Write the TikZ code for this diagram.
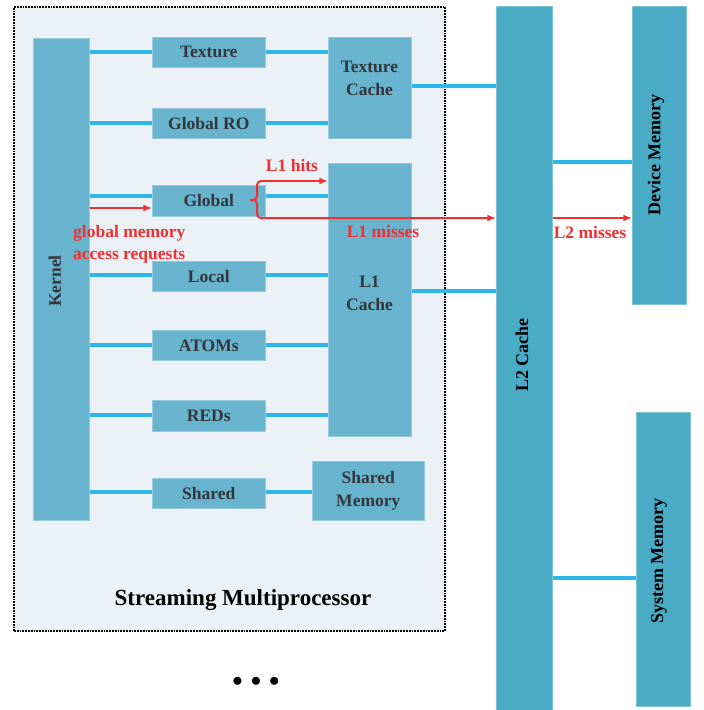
\documentclass[tikz,border=0pt]{standalone}
\usepackage{fontspec}
\setmainfont{Liberation Serif}
\usetikzlibrary{positioning,arrows.meta,calc}
\definecolor{smBack}{RGB}{236,241,248}
\definecolor{unitFill}{RGB}{104,179,205}
\definecolor{memFill}{RGB}{74,171,198}
\definecolor{busBlue}{RGB}{45,182,234}
\definecolor{hitRed}{RGB}{238,48,48}
\definecolor{labelInk}{RGB}{50,55,60}

\begin{document}
\begin{tikzpicture}[x=1pt,y=-1pt,
    unit/.style={fill=unitFill, draw=unitFill!70!white, line width=0.6pt, anchor=north west,
      inner sep=0pt, align=center, text=labelInk, font=\fontsize{17.5}{20}\selectfont\bfseries},
    mem/.style={unit, fill=memFill, draw=memFill!70!white},
    vlabel/.style={rotate=90, font=\fontsize{18}{20}\selectfont\bfseries},
    bus/.style={draw=busBlue, line width=4.5pt},
    miss/.style={draw=hitRed, line width=2pt, -{Latex[length=3mm,width=2.4mm]}},
    redtext/.style={text=hitRed, font=\fontsize{17.5}{22}\selectfont\bfseries, inner sep=0pt}
  ]
    \useasboundingbox (0,0) rectangle (704,710);

    % streaming multiprocessor frame
    \node[draw=black, densely dotted, line width=1.8pt, fill=smBack, anchor=north west,
      minimum width=431pt, minimum height=624pt, inner sep=0pt] (sm) at (13,6) {};
    \node[font=\fontsize{23}{26}\selectfont\bfseries] (smlabel) at (243,600) {Streaming Multiprocessor};

    % kernel and memory spaces
    \node[unit, minimum width=56pt, minimum height=482pt] (kernel) at (33,38) {};
    \node[vlabel, text=labelInk, font=\fontsize{17.5}{20}\selectfont\bfseries] at (55,281) {Kernel};

    \node[unit, minimum width=113pt, minimum height=30pt] (texture) at (152,37) {Texture};
    \node[unit, minimum width=113pt, minimum height=30pt] (globro)  at (152,108) {Global RO};
    \node[unit, minimum width=113pt, minimum height=31pt] (global)  at (152,185) {Global};
    \node[unit, minimum width=113pt, minimum height=30pt] (local)   at (152,261) {Local};
    \node[unit, minimum width=113pt, minimum height=30pt] (atoms)   at (152,330) {ATOMs};
    \node[unit, minimum width=113pt, minimum height=31pt] (reds)    at (152,400) {REDs};
    \node[unit, minimum width=113pt, minimum height=30pt] (shared)  at (152,478) {Shared};

    % caches inside the SM
    \node[unit, minimum width=83pt, minimum height=101pt] (texcache) at (328,37) {};
    \node[text=labelInk, font=\fontsize{17.5}{23}\selectfont\bfseries, align=center] at (369.5,78) {Texture\\Cache};
    \node[unit, minimum width=83pt, minimum height=273pt] (lonecache) at (328,163) {};
    \node[text=labelInk, font=\fontsize{17.5}{23}\selectfont\bfseries, align=center] at (369.5,293) {L1\\Cache};
    \node[unit, minimum width=112pt, minimum height=59pt, font=\fontsize{17.5}{23}\selectfont\bfseries]
      (shmem) at (312,461) {Shared\\Memory};

    % outside the SM
    \node[mem, minimum width=56pt, minimum height=704pt] (ltwo) at (496,6) {};
    \node[vlabel] at (522,355) {L2 Cache};
    \node[mem, minimum width=54pt, minimum height=298pt] (devmem) at (632,6) {};
    \node[vlabel] at (656,155) {Device Memory};
    \node[mem, minimum width=54pt, minimum height=294pt] (sysmem) at (636,412) {};
    \node[vlabel] at (659,561) {System Memory};

    \node[font=\fontsize{20}{20}\selectfont] (dots) at (256,682) {$\bullet\,\bullet\,\bullet$};

    % buses
    \foreach \n/\y in {texture/52, globro/123, global/196, local/275, atoms/345, reds/415, shared/492} {
      \draw[bus] (kernel.east |- 0,\y) -- (\n.west |- 0,\y);
    }
    \draw[bus] (texture.east |- 0,52) -- (texcache.west |- 0,52);
    \draw[bus] (globro.east |- 0,123) -- (texcache.west |- 0,123);
    \foreach \n/\y in {global/196, local/275, atoms/345, reds/415} {
      \draw[bus] (\n.east |- 0,\y) -- (lonecache.west |- 0,\y);
    }
    \draw[bus] (shared.east |- 0,492) -- (shmem.west |- 0,492);
    \draw[bus] (texcache.east |- 0,86) -- (ltwo.west |- 0,86);
    \draw[bus] (lonecache.east |- 0,291) -- (ltwo.west |- 0,291);
    \draw[bus] (ltwo.east |- 0,162) -- (devmem.west |- 0,162);
    \draw[bus] (ltwo.east |- 0,578) -- (sysmem.west |- 0,578);

    % global memory access path
    \draw[miss] (kernel.east |- 0,208) -- (global.west |- 0,208);
    \coordinate (brace) at (250,200);
    \draw[draw=hitRed, line width=2pt, rounded corners=4pt]
      (brace) -- (257,200) -- (257,181) -- (262,181);
    \draw[miss, rounded corners=4pt] (brace) -- (257,200) -- (257,218) -- (ltwo.west |- 0,218);
    \draw[miss] (262,181) -- (lonecache.west |- 0,181);
    \draw[miss] (ltwo.east |- 0,218) -- (devmem.west |- 0,218);

    \node[redtext] (hits) at (292,166) {L1 hits};
    \node[redtext] (lmiss) at (383,232) {L1 misses};
    \node[redtext] (ltwomiss) at (590,233) {L2 misses};
    \node[redtext, align=left, anchor=west] (req) at (73,244) {global memory\\access requests};
  \end{tikzpicture}
\end{document}
